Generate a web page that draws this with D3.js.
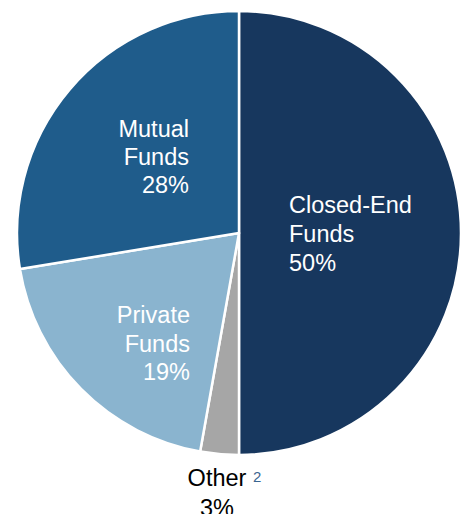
<!DOCTYPE html>
<html><head><meta charset="utf-8">
<script src="https://cdn.jsdelivr.net/npm/d3@7"></script>
<style>html,body{margin:0;padding:0;background:#fff;}svg{display:block;}</style>
</head><body>
<svg id="c" width="460" height="514"></svg>
<script>
const categories = ["Closed-End Funds", "Other", "Private Funds", "Mutual Funds"];
const values = [50, 2.8, 19.6, 27.6];
const labelLines = [["Closed-End", "Funds", "50%"], ["Other", "3%"], ["Private", "Funds", "19%"], ["Mutual", "Funds", "28%"]];
const colors = ["#17375E", "#A6A6A6", "#8AB4CF", "#1F5C8B"];

const svg = d3.select("#c");
const cx = 239, cy = 233, R = 222;
const g = svg.append("g").attr("transform", `translate(${cx},${cy})`);
const pie = d3.pie().sort(null).value(d => d)(values);
const arc = d3.arc().innerRadius(0).outerRadius(R);
g.selectAll("path").data(pie).join("path")
  .attr("d", arc)
  .attr("fill", (d, i) => colors[i])
  .attr("stroke", "#fff").attr("stroke-width", 2.5).attr("stroke-linejoin", "round");

const font = "Liberation Sans, Arial, sans-serif";
// label layout: x, first baseline, anchor, line height, color
const layout = [
  {x: 289, y: 213, anchor: "start", lh: 29, fill: "#fff"},
  {x: 217, y: 486, anchor: "middle", lh: 30, fill: "#000"},
  {x: 190, y: 323, anchor: "end", lh: 28.5, fill: "#fff"},
  {x: 189, y: 137, anchor: "end", lh: 28, fill: "#fff"}
];
labelLines.forEach((lines, i) => {
  const L = layout[i];
  const t = svg.append("text").attr("font-family", font).attr("font-size", 23.5)
    .attr("fill", L.fill).attr("text-anchor", L.anchor);
  lines.forEach((s, j) => {
    t.append("tspan").attr("x", L.x).attr("y", L.y + j * L.lh).text(s);
  });
});
// superscript footnote marker for "Other"
svg.append("text").attr("x", 253).attr("y", 482).attr("font-family", font)
  .attr("font-size", 15).attr("fill", "#3A6591").text("2");
</script>
</body></html>
